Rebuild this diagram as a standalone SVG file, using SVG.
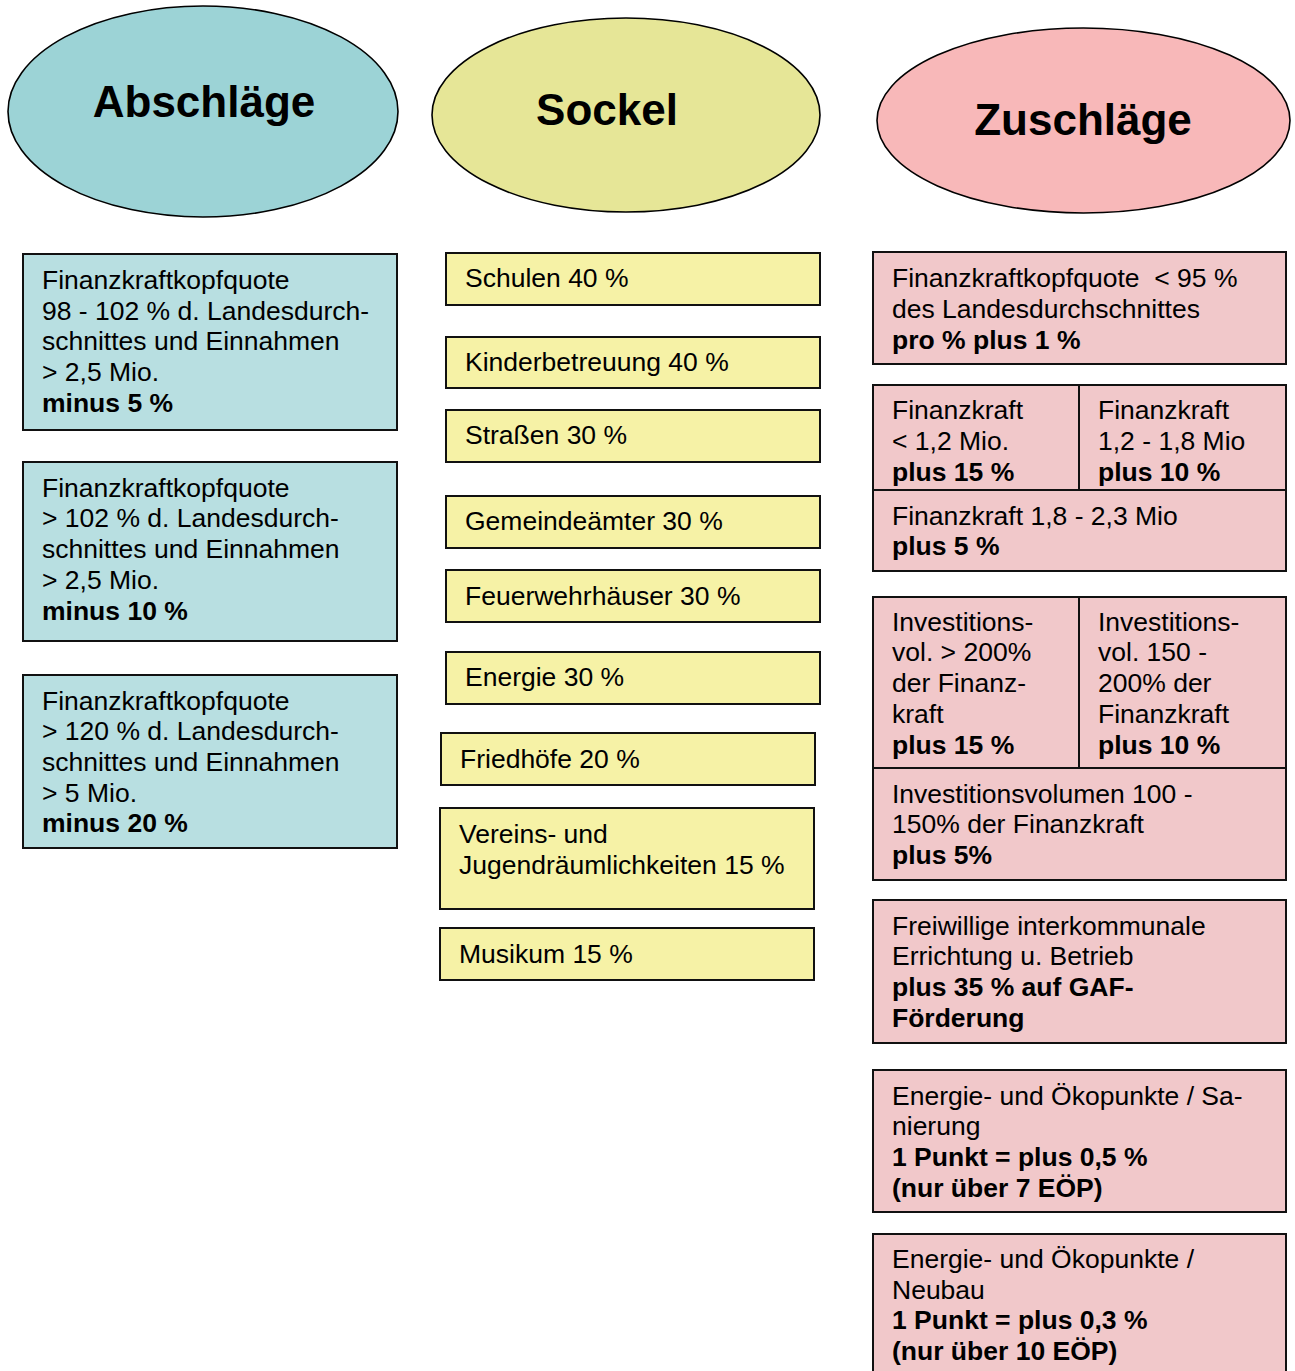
<svg xmlns="http://www.w3.org/2000/svg" width="1295" height="1371" viewBox="0 0 1295 1371">
<style>
text{font-family:"Liberation Sans",Arial,sans-serif;font-size:26.5px;fill:#000}
.h{font-size:44px;font-weight:bold;text-anchor:middle}
.b{font-weight:bold}
.box{stroke:#111;stroke-width:2}
.ell{stroke:#000;stroke-width:1.6}
.ab{fill:#B8DFE1}
.so{fill:#F6F2A6}
.zu{fill:#F1C8CA}
.ln{stroke:#111;stroke-width:2;fill:none}
</style>
<rect width="1295" height="1371" fill="#fff"/>
<g id="head-abschlaege"><ellipse class="ell" cx="203" cy="111.5" rx="195" ry="105.5" fill="#9CD3D6"/><text class="h" x="204" y="117">Abschläge</text></g>
<g id="head-sockel"><ellipse class="ell" cx="626" cy="115" rx="194" ry="97" fill="#E6E697"/><text class="h" x="607" y="125">Sockel</text></g>
<g id="head-zuschlaege"><ellipse class="ell" cx="1083.5" cy="120.5" rx="206.5" ry="92.5" fill="#F8B8B9"/><text class="h" x="1083" y="135">Zuschläge</text></g>

<g id="ab1"><rect class="box ab" x="23" y="254" width="374" height="176"/>
<text x="42" y="289">Finanzkraftkopfquote</text><text x="42" y="320">98 - 102 % d. Landesdurch-</text><text x="42" y="350">schnittes und Einnahmen</text><text x="42" y="381">&gt; 2,5 Mio.</text><text class="b" x="42" y="412">minus 5 %</text></g>
<g id="ab2"><rect class="box ab" x="23" y="462" width="374" height="179"/>
<text x="42" y="497">Finanzkraftkopfquote</text><text x="42" y="527">&gt; 102 % d. Landesdurch-</text><text x="42" y="558">schnittes und Einnahmen</text><text x="42" y="589">&gt; 2,5 Mio.</text><text class="b" x="42" y="620">minus 10 %</text></g>
<g id="ab3"><rect class="box ab" x="23" y="675" width="374" height="173"/>
<text x="42" y="710">Finanzkraftkopfquote</text><text x="42" y="740">&gt; 120 % d. Landesdurch-</text><text x="42" y="771">schnittes und Einnahmen</text><text x="42" y="802">&gt; 5 Mio.</text><text class="b" x="42" y="832">minus 20 %</text></g>

<g id="so1"><rect class="box so" x="446" y="253" width="374" height="52"/><text x="465" y="287">Schulen 40 %</text></g>
<g id="so2"><rect class="box so" x="446" y="337" width="374" height="51"/><text x="465" y="371">Kinderbetreuung 40 %</text></g>
<g id="so3"><rect class="box so" x="446" y="410" width="374" height="52"/><text x="465" y="444">Straßen 30 %</text></g>
<g id="so4"><rect class="box so" x="446" y="496" width="374" height="52"/><text x="465" y="530">Gemeindeämter 30 %</text></g>
<g id="so5"><rect class="box so" x="446" y="570" width="374" height="52"/><text x="465" y="605">Feuerwehrhäuser 30 %</text></g>
<g id="so6"><rect class="box so" x="446" y="652" width="374" height="52"/><text x="465" y="686">Energie 30 %</text></g>
<g id="so7"><rect class="box so" x="441" y="733" width="374" height="52"/><text x="460" y="768">Friedhöfe 20 %</text></g>
<g id="so8"><rect class="box so" x="440" y="808" width="374" height="101"/><text x="459" y="843">Vereins- und</text><text x="459" y="874">Jugendräumlichkeiten 15 %</text></g>
<g id="so9"><rect class="box so" x="440" y="928" width="374" height="52"/><text x="459" y="963">Musikum 15 %</text></g>

<g id="zu1"><rect class="box zu" x="873" y="252" width="413" height="112"/>
<text x="892" y="287" xml:space="preserve">Finanzkraftkopfquote  &lt; 95 %</text><text x="892" y="318">des Landesdurchschnittes</text><text class="b" x="892" y="349">pro % plus 1 %</text></g>
<g id="zu2"><rect class="box zu" x="873" y="385" width="413" height="186"/>
<line class="ln" x1="1079" y1="385" x2="1079" y2="490"/><line class="ln" x1="873" y1="490" x2="1286" y2="490"/>
<text x="892" y="419">Finanzkraft</text><text x="892" y="450">&lt; 1,2 Mio.</text><text class="b" x="892" y="481">plus 15 %</text>
<text x="1098" y="419">Finanzkraft</text><text x="1098" y="450">1,2 - 1,8 Mio</text><text class="b" x="1098" y="481">plus 10 %</text>
<text x="892" y="525">Finanzkraft 1,8 - 2,3 Mio</text><text class="b" x="892" y="555">plus 5 %</text></g>
<g id="zu3"><rect class="box zu" x="873" y="597" width="413" height="283"/>
<line class="ln" x1="1079" y1="597" x2="1079" y2="768"/><line class="ln" x1="873" y1="768" x2="1286" y2="768"/>
<text x="892" y="631">Investitions-</text><text x="892" y="661">vol. &gt; 200%</text><text x="892" y="692">der Finanz-</text><text x="892" y="723">kraft</text><text class="b" x="892" y="754">plus 15 %</text>
<text x="1098" y="631">Investitions-</text><text x="1098" y="661">vol. 150 -</text><text x="1098" y="692">200% der</text><text x="1098" y="723">Finanzkraft</text><text class="b" x="1098" y="754">plus 10 %</text>
<text x="892" y="803">Investitionsvolumen 100 -</text><text x="892" y="833">150% der Finanzkraft</text><text class="b" x="892" y="864">plus 5%</text></g>
<g id="zu4"><rect class="box zu" x="873" y="900" width="413" height="143"/>
<text x="892" y="935">Freiwillige interkommunale</text><text x="892" y="965">Errichtung u. Betrieb</text><text class="b" x="892" y="996">plus 35 % auf GAF-</text><text class="b" x="892" y="1027">Förderung</text></g>
<g id="zu5"><rect class="box zu" x="873" y="1070" width="413" height="142"/>
<text x="892" y="1105">Energie- und Ökopunkte / Sa-</text><text x="892" y="1135">nierung</text><text class="b" x="892" y="1166">1 Punkt = plus 0,5 %</text><text class="b" x="892" y="1197">(nur über 7 EÖP)</text></g>
<g id="zu6"><rect class="box zu" x="873" y="1234" width="413" height="150"/>
<text x="892" y="1268">Energie- und Ökopunkte /</text><text x="892" y="1299">Neubau</text><text class="b" x="892" y="1329">1 Punkt = plus 0,3 %</text><text class="b" x="892" y="1360">(nur über 10 EÖP)</text></g>
<g id="connectors"></g>
</svg>
